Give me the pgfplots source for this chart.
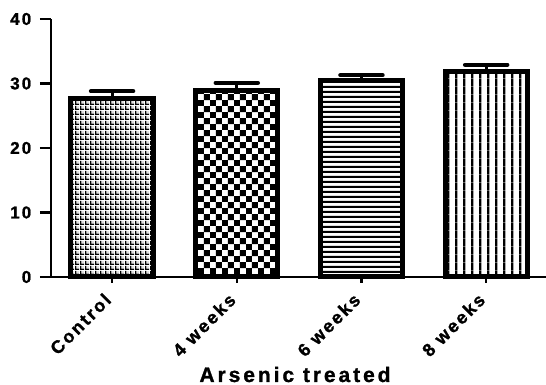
\documentclass[border=0pt]{standalone}
\usepackage{fontspec}
\setmainfont{Liberation Sans}
\usepackage{pgfplots}
\pgfplotsset{compat=1.18}
\usetikzlibrary{patterns.meta}

\tikzdeclarepattern{
  name=ctrlpat,
  bottom left={(0pt,0pt)}, top right={(5pt,5pt)},
  tile size={(5pt,5pt)},
  code={
    \fill (0pt,0pt) rectangle (5pt,1.7pt);
    \fill (0pt,0pt) rectangle (1.7pt,5pt);
    \fill (3pt,3pt) rectangle (3.9pt,3.9pt);
  }
}
\tikzdeclarepattern{
  name=checkpat,
  bottom left={(0pt,0pt)}, top right={(12.4pt,12.4pt)},
  tile size={(12.4pt,12.4pt)},
  code={
    \fill (0pt,0pt) rectangle (6.2pt,6.2pt);
    \fill (6.2pt,6.2pt) rectangle (12.4pt,12.4pt);
  }
}
\tikzdeclarepattern{
  name=hpat,
  bottom left={(0pt,0pt)}, top right={(5.4pt,5.4pt)},
  tile size={(5.4pt,5.4pt)},
  code={
    \fill (0pt,0pt) rectangle (5.4pt,2.4pt);
  }
}
\tikzdeclarepattern{
  name=vpat,
  bottom left={(0pt,0pt)}, top right={(8.3pt,8.3pt)},
  tile size={(8.3pt,8.3pt)},
  code={
    \fill (0pt,0pt) rectangle (2.5pt,8.3pt);
  }
}

\pgfplotsset{
  mybar/.style={
    ybar, bar width=0.66, bar shift=0pt, draw=black, line width=5pt, pattern color=black,
    error bars/y dir=plus, error bars/y explicit,
    error bars/error bar style={line width=3pt, black},
    error bars/error mark options={rotate=90, mark size=21pt, line width=4.5pt, line cap=round, black}
  }
}

\begin{document}
\begin{tikzpicture}
\begin{axis}[
  at={(51pt,108pt)}, anchor=south west,
  scale only axis, width=495pt, height=258pt,
  xmin=-0.49, xmax=3.48, ymin=0, ymax=40,
  axis x line=bottom, axis y line=left,
  axis line style={line width=2.5pt, -},
  xtick={0,1,2,3}, xticklabels={Control,4 weeks,6 weeks,8 weeks},
  ytick={0,10,20,30,40},
  tick align=outside, tick style={line width=2.5pt, black},
  xtick style={/pgfplots/major tick length=6pt},
  ytick style={/pgfplots/major tick length=11pt},
  /pgf/number format/assume math mode=true,
  ticklabel style={font=\fontsize{17}{17}\selectfont\bfseries\addfontfeatures{LetterSpace=12,FakeBold=1.2}},
  yticklabel style={xshift=-12pt},
  xticklabel style={rotate=45, anchor=north east, inner sep=1pt, xshift=-13pt, yshift=0pt,
    font=\fontsize{18}{18}\selectfont\bfseries\addfontfeatures{LetterSpace=12,FakeBold=1.2}},
  xlabel={Arsenic treated},
  xlabel style={at={(axis description cs:0.493,0)}, anchor=base, yshift=-105pt,
    font=\fontsize{21}{21}\selectfont\bfseries\addfontfeatures{LetterSpace=14,FakeBold=1.2}},
  clip=false,
]
\addplot[mybar, pattern=ctrlpat] coordinates {(0,27.6) +- (0,1.2)};
\addplot[mybar, pattern=checkpat] coordinates {(1,28.9) +- (0,1.2)};
\addplot[mybar, pattern=hpat] coordinates {(2,30.4) +- (0,0.9)};
\addplot[mybar, pattern=vpat] coordinates {(3,31.9) +- (0,1.0)};
\end{axis}
\pgfresetboundingbox
\path (0,0) rectangle (546pt,385pt);
\end{tikzpicture}
\end{document}
